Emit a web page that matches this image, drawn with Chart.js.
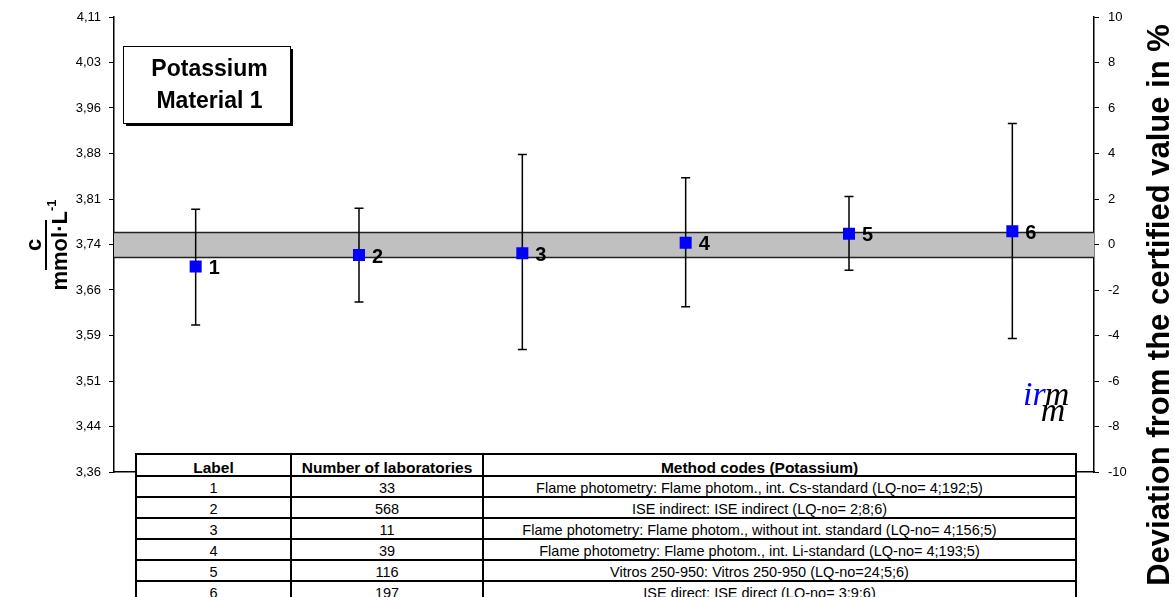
<!DOCTYPE html>
<html>
<head>
<meta charset="utf-8">
<title>Potassium Material 1</title>
<script src="https://cdn.jsdelivr.net/npm/chart.js@4.4.0/dist/chart.umd.min.js"></script>
<style>
body { margin: 0; background: #fff; }
#wrap { position: relative; width: 1175px; height: 597px; overflow: hidden; }
#methods {
    position: absolute; left: 135px; top: 453px; width: 942px;
    border-collapse: collapse; table-layout: fixed; background: #fff;
    font-family: Arial, "Liberation Sans", sans-serif; font-size: 14.5px; color: #000;
}
#methods td, #methods th {
    border: 2px solid #000; padding: 0; height: 19px; line-height: 15px;
    text-align: center; vertical-align: bottom; white-space: nowrap; overflow: hidden;
}
#methods th { font-weight: bold; font-size: 15.5px; height: 20px; }
#methods td:nth-child(3), #methods th:nth-child(3) { padding-right: 40px; }
</style>
</head>
<body>
<div id="wrap">
    <canvas id="chart" width="1175" height="597"></canvas>
    <table id="methods">
        <colgroup><col style="width:155px"><col style="width:192px"><col></colgroup>
        <thead><tr><th>Label</th><th>Number of laboratories</th><th>Method codes (Potassium)</th></tr></thead>
        <tbody id="methodRows"></tbody>
    </table>
</div>
<script>
// data

var labels = ['1', '2', '3', '4', '5', '6'];
var means = [3.699, 3.718, 3.721, 3.738, 3.753, 3.757];
var lows = [3.603, 3.641, 3.563, 3.633, 3.693, 3.581];
var highs = [3.793, 3.795, 3.883, 3.845, 3.814, 3.934];

var certified = 3.7353;
var bandLow = 3.714;
var bandHigh = 3.755;

var percentTicks = [-10, -8, -6, -4, -2, 0, 2, 4, 6, 8, 10];
var leftTickLabels = ['3,36', '3,44', '3,51', '3,59', '3,66', '3,74', '3,81', '3,88', '3,96', '4,03', '4,11'];

var labCounts = [33, 568, 11, 39, 116, 197];
var methodCodes = [
    'Flame photometry: Flame photom., int. Cs-standard (LQ-no= 4;192;5)',
    'ISE indirect: ISE indirect (LQ-no= 2;8;6)',
    'Flame photometry: Flame photom., without int. standard (LQ-no= 4;156;5)',
    'Flame photometry: Flame photom., int. Li-standard (LQ-no= 4;193;5)',
    'Vitros 250-950: Vitros 250-950 (LQ-no=24;5;6)',
    'ISE direct: ISE direct (LQ-no= 3;9;6)'
];

var FONT = 'Arial, "Liberation Sans", sans-serif';

// table under the plot
var rowsHtml = '';
for (var i = 0; i < labels.length; i++) {
    rowsHtml += '<tr><td>' + labels[i] + '</td><td>' + labCounts[i] + '</td><td>' + methodCodes[i] + '</td></tr>';
}
document.getElementById('methodRows').innerHTML = rowsHtml;

////////////////////////////////////////////////////////////////////
//////////////// plugins: band, error bars, labels, boxes ////////////
////////////////////////////////////////////////////////////////////

var bandPlugin = {
    id: 'band',
    beforeDatasetsDraw: function (chart) {
        var ctx = chart.ctx, area = chart.chartArea, y = chart.scales.y;
        var top = y.getPixelForValue(bandHigh), bottom = y.getPixelForValue(bandLow);
        ctx.save();
        ctx.fillStyle = '#C0C0C0';
        ctx.fillRect(area.left, top, area.right - area.left, bottom - top);
        ctx.strokeStyle = '#222';
        ctx.lineWidth = 1.5;
        ctx.beginPath();
        ctx.moveTo(area.left, top); ctx.lineTo(area.right, top);
        ctx.moveTo(area.left, bottom); ctx.lineTo(area.right, bottom);
        ctx.stroke();

        // error bars
        var x = chart.scales.x;
        ctx.strokeStyle = '#000';
        ctx.lineWidth = 1.5;
        ctx.beginPath();
        for (var i = 0; i < means.length; i++) {
            var px = x.getPixelForValue(i);
            var yl = y.getPixelForValue(lows[i]), yh = y.getPixelForValue(highs[i]);
            ctx.moveTo(px, yl); ctx.lineTo(px, yh);
            ctx.moveTo(px - 4.5, yl); ctx.lineTo(px + 4.5, yl);
            ctx.moveTo(px - 4.5, yh); ctx.lineTo(px + 4.5, yh);
        }
        ctx.stroke();
        ctx.restore();
    }
};

var decorPlugin = {
    id: 'decor',
    afterDraw: function (chart) {
        var ctx = chart.ctx, x = chart.scales.x, y = chart.scales.y;
        ctx.save();

        // point labels
        ctx.fillStyle = '#000';
        ctx.font = 'bold 20px ' + FONT;
        ctx.textAlign = 'left';
        ctx.textBaseline = 'middle';
        for (var i = 0; i < means.length; i++) {
            ctx.fillText(labels[i], x.getPixelForValue(i) + 13, y.getPixelForValue(means[i]) + 2);
        }

        // title box with shadow
        var bx = 123, by = 46, bw = 167, bh = 77;
        ctx.fillStyle = '#000';
        ctx.fillRect(bx + 3, by + 3, bw, bh);
        ctx.fillStyle = '#fff';
        ctx.fillRect(bx, by, bw, bh);
        ctx.strokeStyle = '#000';
        ctx.lineWidth = 1;
        ctx.strokeRect(bx + 0.5, by + 0.5, bw, bh);
        ctx.fillStyle = '#000';
        ctx.font = 'bold 23px ' + FONT;
        ctx.textAlign = 'center';
        ctx.fillText('Potassium', bx + bw / 2 + 3, 70);
        ctx.fillText('Material 1', bx + bw / 2 + 3, 102);

        // left axis title: c over mmol·L-1, rotated
        ctx.save();
        ctx.translate(47, 245);
        ctx.rotate(-Math.PI / 2);
        ctx.font = 'bold 22px ' + FONT;
        ctx.textAlign = 'center';
        ctx.textBaseline = 'alphabetic';
        ctx.fillText('c', 0, -6);
        ctx.fillRect(-25, -2, 50, 2);
        var main = 'mmol·L';
        var mw = ctx.measureText(main).width;
        ctx.font = 'bold 13px ' + FONT;
        var sw = ctx.measureText('-1').width;
        ctx.font = 'bold 22px ' + FONT;
        ctx.textAlign = 'left';
        var sx = -(mw + sw) / 2;
        ctx.fillText(main, sx, 20);
        ctx.font = 'bold 13px ' + FONT;
        ctx.fillText('-1', sx + mw, 9);
        ctx.restore();

        // right axis title
        ctx.save();
        ctx.translate(1160, 305);
        ctx.rotate(-Math.PI / 2);
        ctx.font = 'bold 31px ' + FONT;
        ctx.textAlign = 'center';
        ctx.textBaseline = 'middle';
        ctx.fillText('Deviation from the certified value in %', 0, 0);
        ctx.restore();

        // irmm logo
        ctx.font = 'italic 34px "Liberation Serif", "Times New Roman", serif';
        ctx.textAlign = 'left';
        ctx.textBaseline = 'alphabetic';
        ctx.fillStyle = '#0000FF';
        ctx.fillText('ir', 1023, 405);
        var irw = ctx.measureText('ir').width;
        ctx.fillStyle = '#000';
        ctx.fillText('m', 1023 + irw - 1, 405);
        ctx.fillText('m', 1023 + irw - 5, 421);

        ctx.restore();
    }
};

var config = {
    type: 'line',
    data: {
        labels: labels,
        datasets: [{
            data: means,
            showLine: false,
            pointStyle: 'rect',
            pointRadius: 8.5,
            pointHoverRadius: 8.5,
            pointBorderWidth: 0,
            pointBackgroundColor: '#0000FF',
            borderColor: '#0000FF'
        }]
    },
    options: {
        responsive: false,
        animation: false,
        events: [],
        layout: { padding: { top: 17, bottom: 125, left: 0, right: 0 } },
        plugins: { legend: { display: false }, tooltip: { enabled: false } },
        scales: {
            x: {
                type: 'category',
                offset: true,
                grid: { display: false, drawTicks: false },
                ticks: { display: false },
                border: { display: true, color: '#000', width: 1.5 },
                afterFit: function (s) { s.height = 0; }
            },
            y: {
                position: 'left',
                min: certified * 0.9,
                max: certified * 1.1,
                afterBuildTicks: function (s) {
                    s.ticks = percentTicks.map(function (p) { return { value: certified * (1 + p / 100) }; });
                },
                ticks: {
                    color: '#000',
                    font: { family: FONT, size: 13 },
                    padding: 8,
                    callback: function (v, idx) { return leftTickLabels[idx]; }
                },
                grid: { display: true, drawOnChartArea: false, drawTicks: true, tickLength: 5, color: '#000', lineWidth: 1 },
                border: { display: true, color: '#000', width: 1.5 },
                afterFit: function (s) { s.width = 114; }
            },
            y2: {
                position: 'right',
                min: -10,
                max: 10,
                ticks: {
                    stepSize: 2,
                    color: '#000',
                    font: { family: FONT, size: 13 },
                    padding: 9
                },
                grid: { display: true, drawOnChartArea: false, drawTicks: true, tickLength: 5, color: '#000', lineWidth: 1 },
                border: { display: true, color: '#000', width: 1.5 },
                afterFit: function (s) { s.width = 81; }
            }
        }
    },
    plugins: [bandPlugin, decorPlugin]
};

window.onload = function () {
    var ctx = document.getElementById('chart').getContext('2d');
    window.myChart = new Chart(ctx, config);
};
</script>
</body>
</html>
